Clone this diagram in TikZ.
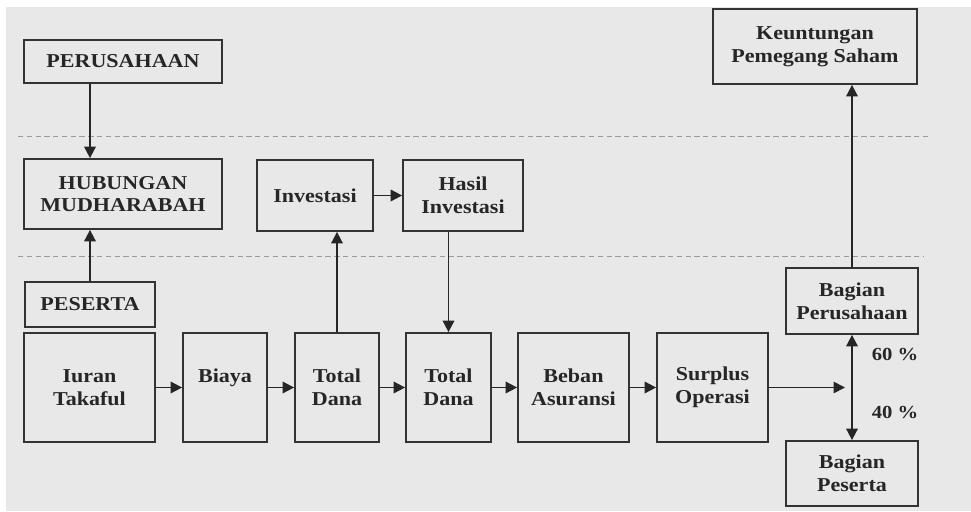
\documentclass[tikz,border=0pt]{standalone}
\usepackage{fontspec}
\setmainfont{Liberation Serif}[FakeStretch=1.12]
\usetikzlibrary{arrows.meta}

\begin{document}
\begin{tikzpicture}[x=0.02cm, y=-0.02cm, >={Triangle[length=6.5pt,width=6.5pt]},
  kotak/.style 2 args={draw=black!80, line width=1pt, align=center, inner sep=0pt,
    minimum width=#1*0.02cm, minimum height=#2*0.02cm,
    font=\bfseries\fontsize{11.2}{13}\selectfont, text=black!85},
  persen/.style={font=\bfseries\fontsize{10.5}{12}\selectfont, text=black!85},
  panah/.style={->, line width=1pt, black!85},
  garis/.style={densely dashed, gray!80, line width=0.5pt}]

  % --- 1. 背景 ---
  \useasboundingbox (0,0) rectangle (971,511);
  \fill[gray!18] (6,7) rectangle (971,511);

  % --- 2. 区切りの点線 ---
  \draw[garis] (18,136) -- (928,136);
  \draw[garis] (18,256) -- (924,256);

  % --- 3. 上段の箱 ---
  \node[kotak={198}{43}] (perusahaan) at (123,61.5) {PERUSAHAAN};
  \node[kotak={198}{70}] (hubungan) at (123,194) {HUBUNGAN\\MUDHARABAH};
  \node[kotak={116}{71}] (investasi) at (315,195.5) {Investasi};
  \node[kotak={120}{71}] (hasil) at (463,195.5) {Hasil\\Investasi};
  \node[kotak={204}{75}] (untung) at (815,46.5) {Keuntungan\\Pemegang Saham};

  % --- 4. 下段の箱 ---
  \node[kotak={130}{45}] (peserta) at (90,304.5) {PESERTA};
  \node[kotak={131}{109}] (iuran) at (89.5,387.5) {Iuran\\Takaful};
  \node[kotak={84}{109}] (biaya) at (225,387.5) {Biaya\\\mbox{}};
  \node[kotak={84}{109}] (dana1) at (337,387.5) {Total\\Dana};
  \node[kotak={85}{109}] (dana2) at (448.5,387.5) {Total\\Dana};
  \node[kotak={111}{109}] (beban) at (573.5,387.5) {Beban\\Asuransi};
  \node[kotak={111}{109}] (surplus) at (712.5,387.5) {Surplus\\Operasi};

  % --- 5. 右側の配分 ---
  \node[kotak={132}{66}] (bagper) at (852,301) {Bagian\\Perusahaan};
  \node[kotak={132}{65}] (bagpes) at (852,473.5) {Bagian\\Peserta};
  \coordinate (belah) at (845,387.5);
  \node[persen] (enam) at (895,354) {60 \%};
  \node[persen] (empat) at (895,412) {40 \%};

  % --- 6. 矢印 ---
  \draw[panah] (perusahaan.south -| peserta.north) -- (hubungan.north -| peserta.north);
  \draw[panah] (peserta.north) -- (peserta.north |- hubungan.south);
  \draw[panah] (iuran) -- (biaya);
  \draw[panah] (biaya) -- (dana1);
  \draw[panah] (dana1) -- (dana2);
  \draw[panah] (dana2) -- (beban);
  \draw[panah] (beban) -- (surplus);
  \draw[panah] (surplus) -- (belah);
  \draw[panah] (dana1.north) -- (dana1.north |- investasi.south);
  \draw[panah] (investasi) -- (hasil);
  \draw[panah] (hasil.south -| dana2.north) -- (dana2.north);
  \draw[panah, <->] (bagper.south) -- (bagpes.north);
  \draw[panah] (bagper.north) -- (bagper.north |- untung.south);

\end{tikzpicture}
\end{document}
